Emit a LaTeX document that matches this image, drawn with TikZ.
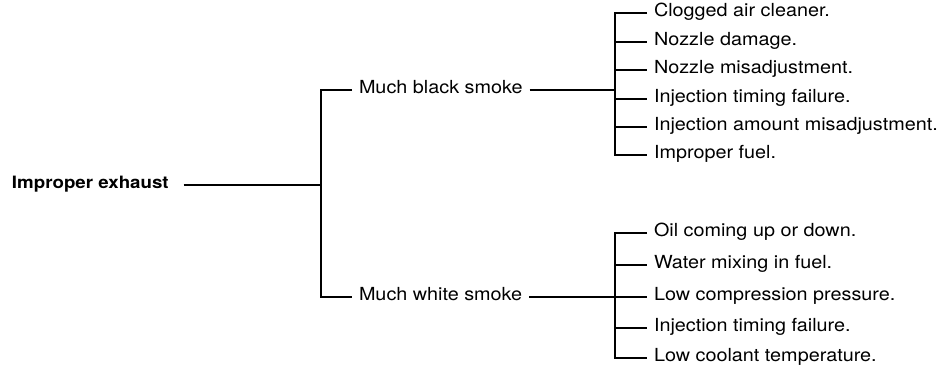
\documentclass[tikz,border=0pt]{standalone}
\usepackage{fontspec}
\setmainfont{TeX Gyre Heros}[FakeStretch=1.1]
\usetikzlibrary{positioning}

\tikzstyle{cause} = [anchor = west, inner sep = 0pt, outer xsep = 7pt, text height = 1.5ex, text depth = 0.3ex, font = \fontsize{18}{21}\selectfont]
\tikzstyle{fault} = [cause, outer xsep = 15pt, font = \fontsize{17}{20}\selectfont\bfseries]
\tikzstyle{link} = [line width = 1.5pt]

\begin{document}
\begin{tikzpicture}[x = 1pt, y = -1pt]
		\useasboundingbox (0, 0) rectangle (943, 373);
		\node [fault] at (-3, 185) (root) {Improper exhaust};
		\node [cause] at (352, 90) (black) {Much black smoke};
		\node [cause] at (352, 297) (white) {Much white smoke};
		\coordinate (jr) at (321, 185);
		\coordinate (jb) at (615, 90);
		\coordinate (jw) at (615, 297);

		% black smoke causes
		\foreach \name/\y/\txt in {b1/13/Clogged air cleaner., b2/42/Nozzle damage., b3/70/Nozzle misadjustment., b4/99/Injection timing failure., b5/127/Injection amount misadjustment., b6/155/Improper fuel.}
			\node [cause] at (647, \y) (\name) {\txt};
		% white smoke causes
		\foreach \name/\y/\txt in {w1/233/Oil coming up or down., w2/265/Water mixing in fuel., w3/297/Low compression pressure., w4/328/Injection timing failure., w5/358/Low coolant temperature.}
			\node [cause] at (647, \y) (\name) {\txt};

		\draw [link] (root) -- (jr);
		\draw [link] (black) -- (black -| jr) -- (white -| jr) -- (white);
		\draw [link] (black) -- (jb);
		\draw [link] (white) -- (w3);

		\draw [link] (b1) -- (b1 -| jb) -- (b6 -| jb) -- (b6);
		\foreach \name in {b2, b3, b4, b5}
			\draw [link] (\name -| jb) -- (\name);
		\draw [link] (w1) -- (w1 -| jw) -- (w5 -| jw) -- (w5);
		\foreach \name in {w2, w4}
			\draw [link] (\name -| jw) -- (\name);
	\end{tikzpicture}
\end{document}
